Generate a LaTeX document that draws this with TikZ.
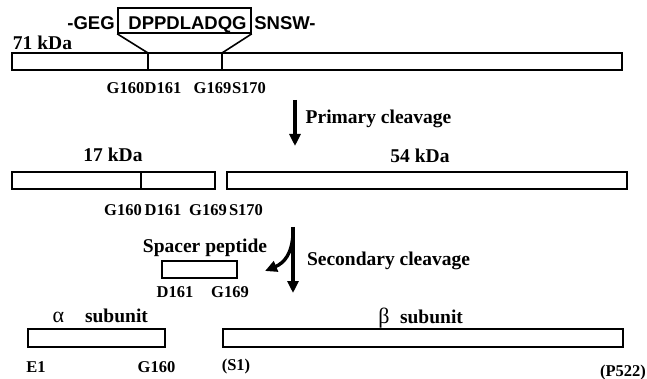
\documentclass[tikz,border=0pt]{standalone}
\usepackage{fontspec}
\setmainfont{Liberation Serif}
\newfontfamily\seqfont{Liberation Sans}
\usetikzlibrary{arrows.meta}
\tikzset{
  bar/.style={draw, line width=2pt, inner sep=0pt, minimum height=17pt},
  divline/.style={line width=2pt},
  funnel/.style={line width=1.6pt},
  big/.style={inner sep=0pt, anchor=base, font=\fontsize{19.5}{20}\selectfont\bfseries},
  small/.style={inner sep=0pt, anchor=base, font=\fontsize{16.5}{17}\selectfont\bfseries},
  greek/.style={inner sep=0pt, anchor=base, font=\fontsize{22}{22}\selectfont},
  seq/.style={inner sep=0pt, anchor=base, font=\fontsize{18.5}{19}\selectfont\seqfont\bfseries},
  cleave/.style={line width=3.4pt, -{Triangle[width=11pt,length=12pt]}},
}
\begin{document}
\begin{tikzpicture}[x=1pt,y=-1pt]
\useasboundingbox (0,0) rectangle (647,379);
% sequence
\node[seq] (geg) at (91,30) {-GEG};
\node[seq] (dpp) at (187.5,30) {DPPDLADQG};
\node[seq] (snsw) at (285,30) {SNSW-};
\node[draw, line width=1.6pt, inner sep=0pt, minimum width=133pt, minimum height=25pt] (seqbox) at (184.5,20.5) {};
% 71 kDa bar
\node[big] (k71) at (42.5,50) {71 kDa};
\node[bar, minimum width=610pt] (b71) at (317,61.5) {};
\coordinate (d1t) at (148,53); \coordinate (d1b) at (148,70);
\coordinate (d2t) at (222,53); \coordinate (d2b) at (222,70);
\draw[divline] (d1t) -- (d1b);
\draw[divline] (d2t) -- (d2b);
\draw[funnel] (seqbox.south west) -- (d1t);
\draw[funnel] (seqbox.south east) -- (d2t);
\node[small] (ga) at (125.5,94) {G160};
\node[small] (da) at (163,94) {D161};
\node[small] (gb) at (212.5,94) {G169};
\node[small] (sa) at (249,94) {S170};
% primary cleavage
\coordinate (p1) at (295,100); \coordinate (p2) at (295,146);
\draw[cleave] (p1) -- (p2);
\node[big] (prim) at (378.5,124) {Primary cleavage};
% 17 / 54 kDa
\node[big] (k17) at (113,162) {17 kDa};
\node[big] (k54) at (420,163) {54 kDa};
\node[bar, minimum width=203pt] (b17) at (113.5,180.5) {};
\node[bar, minimum width=400pt] (b54) at (427,180.5) {};
\coordinate (d3t) at (141,172); \coordinate (d3b) at (141,189);
\draw[divline] (d3t) -- (d3b);
\node[small] (gc) at (123,215) {G160};
\node[small] (dc) at (163,215) {D161};
\node[small] (gd) at (208,215) {G169};
\node[small] (sc) at (246,215) {S170};
% secondary cleavage
\coordinate (s1) at (293,227); \coordinate (s2) at (293,293);
\coordinate (c1) at (293,234); \coordinate (c2) at (265,271);
\draw[cleave] (s1) -- (s2);
\draw[cleave] (c1) .. controls (292,254) and (284,263) .. (c2);
\node[big] (sec) at (388.5,265) {Secondary cleavage};
\node[big] (spt) at (205,252) {Spacer peptide};
\node[bar, minimum width=75pt] (bsp) at (199.5,269.5) {};
\node[small] (de) at (175,297) {D161};
\node[small] (ge) at (230,297) {G169};
% subunits
\node[greek] (alp) at (58.5,322) {α};
\node[big] (asub) at (116.5,322) {subunit};
\node[greek] (bet) at (384,323) {β};
\node[big] (bsub) at (431.5,323) {subunit};
\node[bar, minimum width=137pt, minimum height=18pt] (ba) at (96.5,338) {};
\node[bar, minimum width=400pt, minimum height=18pt] (bb) at (423,338) {};
\node[small] (e1) at (36,372) {E1};
\node[small] (gf) at (156.5,372) {G160};
\node[small] (s1l) at (236,370) {(S1)};
\node[small] (p522) at (623,376) {(P522)};
\end{tikzpicture}
\end{document}
